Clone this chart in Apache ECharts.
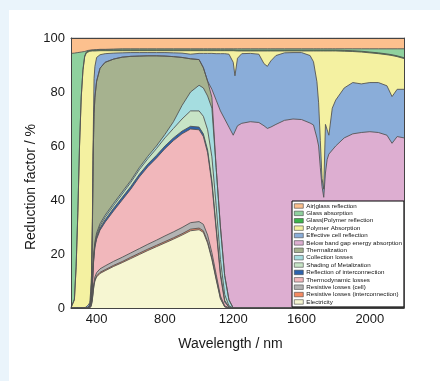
<!DOCTYPE html>
<html>
<head>
<meta charset="utf-8">
<script src="https://cdn.jsdelivr.net/npm/echarts@6/dist/echarts.min.js"></script>
<style>
  html, body { margin: 0; padding: 0; background: #eaf4fb; overflow: hidden; }
  #panel { position: absolute; left: 9px; top: 10px; width: 440px; height: 381px; background: #fff; }
  #chart { position: absolute; left: 0; top: 0; width: 440px; height: 381px; }
</style>
</head>
<body>
<div id="panel"></div>
<div id="chart"></div>
<script>
// wavelength grid (nm), denser where the curves bend
var wavelength = [
  250, 260, 270, 280, 290, 300, 310, 320, 330, 340,
  350, 360, 365, 370, 375, 380, 385, 390, 400, 420,
  450, 500, 550, 600, 650, 700, 750, 800, 850, 900,
  950, 1000, 1025, 1050, 1075, 1100, 1125, 1150, 1175, 1200,
  1210, 1225, 1250, 1300, 1350, 1380, 1400, 1420, 1450, 1500,
  1550, 1600, 1650, 1670, 1690, 1700, 1710, 1720, 1730, 1740,
  1750, 1760, 1780, 1800, 1850, 1900, 1950, 2000, 2050, 2100,
  2130, 2140, 2160, 2200
];
var xTicks = [400, 800, 1200, 1600, 2000];

// upper edge of each band (cumulative %)
var airGlassTop = [
  100, 100, 100, 100, 100, 100, 100, 100, 100, 100,
  100, 100, 100, 100, 100, 100, 100, 100, 100, 100,
  100, 100, 100, 100, 100, 100, 100, 100, 100, 100,
  100, 100, 100, 100, 100, 100, 100, 100, 100, 100,
  100, 100, 100, 100, 100, 100, 100, 100, 100, 100,
  100, 100, 100, 100, 100, 100, 100, 100, 100, 100,
  100, 100, 100, 100, 100, 100, 100, 100, 100, 100,
  100, 100, 100, 100
];
var glassAbsTop = [
  94.3, 94.3, 94.4, 94.5, 94.6, 94.7, 94.8, 94.9, 95.0, 95.2,
  95.4, 95.5, 95.5, 95.6, 95.6, 95.6, 95.6, 95.7, 95.7, 95.8,
  95.8, 95.9, 96, 96, 96, 96, 96, 96, 96, 96,
  96, 96, 96, 96, 96, 96, 96, 96, 96, 96,
  96, 96, 96, 96, 96, 96, 96, 96, 96, 96,
  96, 96, 96, 96, 96, 96, 96, 96, 96, 96,
  96, 96, 96, 96, 96, 96, 96, 96, 96, 96,
  96, 96, 96, 96
];
var glassPolyTop = [
  0.2, 0.8, 3.3, 15.3, 35.3, 60.3, 78.3, 88.3, 93.3, 94.8,
  95.3, 95.4, 95.4, 95.5, 95.5, 95.5, 95.5, 95.5, 95.5, 95.6,
  95.6, 95.6, 95.6, 95.6, 95.6, 95.6, 95.6, 95.6, 95.6, 95.6,
  95.6, 95.6, 95.6, 95.6, 95.6, 95.6, 95.6, 95.6, 95.6, 95.6,
  95.5, 95.5, 95.5, 95.5, 95.5, 95.5, 95.5, 95.5, 95.5, 95.5,
  95.5, 95.5, 95.5, 95.5, 95.5, 95.5, 95.5, 95.5, 95.5, 95.5,
  95.5, 95.5, 95.5, 95.5, 95.4, 95.3, 95.1, 94.8, 94.5, 94.1,
  93.8, 93.7, 93.4, 92.7
];
var polymerTop = [
  0, 0.5, 3, 15, 35, 60, 78, 88, 93, 94.5,
  95, 95.1, 95.1, 95.2, 95.2, 95.2, 95.2, 95.2, 95.2, 95.3,
  95.3, 95.3, 95.3, 95.3, 95.3, 95.3, 95.3, 95.3, 95.3, 95.3,
  95.3, 95.3, 95.3, 95.3, 95.3, 95.3, 95.3, 95.3, 95.3, 95.3,
  95.2, 95.2, 95.2, 95.2, 95.2, 95.2, 95.2, 95.2, 95.2, 95.2,
  95.2, 95.2, 95.2, 95.2, 95.2, 95.2, 95.2, 95.2, 95.2, 95.2,
  95.2, 95.2, 95.2, 95.2, 95.1, 95.0, 94.8, 94.5, 94.2, 93.8,
  93.5, 93.4, 93.1, 92.4
];
var cellReflTop = [
  0, 0, 0, 0, 0, 0, 0, 0, 0, 0,
  1, 2, 6, 12, 32, 63, 85, 89.5, 92.8, 93.8,
  94.2, 94.4, 94.5, 94.6, 94.6, 94.6, 94.6, 94.6, 94.5, 94.4,
  94.0, 94.3, 94.3, 94.3, 94.3, 94.2, 94.2, 94.2, 94.0, 91,
  86, 92.5, 94.2, 94.3, 94.0, 90.5, 89.5, 91.5, 93.5, 94.5,
  94.6, 94.6, 93.5, 91.2, 83.8, 76, 62, 48, 44, 68,
  66, 64, 74, 77, 81.5, 83.5, 83, 83.5, 83.5, 82.3,
  78.3, 78.5, 81, 81
];
var belowGapTop = [
  0, 0, 0, 0, 0, 0, 0, 0, 0, 0,
  0, 1, 3, 9, 28, 57, 72, 78, 84, 88.8,
  91, 92.2, 92.9, 93.2, 93.3, 93.4, 93.4, 93.3, 93.1, 92.8,
  92.3, 92.0, 89, 84, 81, 77, 73, 70, 67, 64,
  63.4, 67.5, 68.4, 69, 68.7, 67.5, 66.5, 67, 68, 69.5,
  70, 69.8, 68.5, 67.8, 63, 60, 52, 45, 41, 50,
  55, 57, 58.5, 60, 63, 64.5, 65, 65.3, 65, 64,
  61, 61.5, 63.5, 63
];
var thermTop = [
  0, 0, 0, 0, 0, 0, 0, 0, 0, 0,
  0, 1, 3, 9, 28, 57, 72, 78, 84, 88.8,
  91, 92.2, 92.9, 93.2, 93.3, 93.4, 93.4, 93.3, 93.1, 92.8,
  92.3, 92.0, 89, 84, 78, 52, 30, 12, 3, 0,
  0, 0, 0, 0, 0, 0, 0, 0, 0, 0,
  0, 0, 0, 0, 0, 0, 0, 0, 0, 0,
  0, 0, 0, 0, 0, 0, 0, 0, 0, 0,
  0, 0, 0, 0
];
var collTop = [
  0, 0, 0, 0, 0, 0, 0, 0, 0, 0,
  0, 0.6, 1.8, 4.4, 9.2, 16.5, 21.2, 24.5, 27.8, 31.2,
  34.4, 38.8, 43, 47.2, 52, 56.2, 60, 64.3, 69, 75,
  80, 82.5, 81.5, 78.5, 74, 52, 30, 12, 3, 0,
  0, 0, 0, 0, 0, 0, 0, 0, 0, 0,
  0, 0, 0, 0, 0, 0, 0, 0, 0, 0,
  0, 0, 0, 0, 0, 0, 0, 0, 0, 0,
  0, 0, 0, 0
];
var shadingTop = [
  0, 0, 0, 0, 0, 0, 0, 0, 0, 0,
  0, 0.5, 1.6, 4.1, 8.8, 16, 20.6, 23.7, 26.9, 30.4,
  33.6, 38, 42.2, 46.5, 51.2, 55.3, 59, 63, 66.5, 70,
  73, 73, 71, 66, 56, 38, 18, 5, 0.8, 0,
  0, 0, 0, 0, 0, 0, 0, 0, 0, 0,
  0, 0, 0, 0, 0, 0, 0, 0, 0, 0,
  0, 0, 0, 0, 0, 0, 0, 0, 0, 0,
  0, 0, 0, 0
];
var intReflTop = [
  0, 0, 0, 0, 0, 0, 0, 0, 0, 0,
  0, 0.4, 1.4, 3.8, 8.4, 15.5, 20, 23.1, 26.2, 29.6,
  32.7, 37, 41, 45, 49.5, 53.3, 56.5, 60, 63, 65.5,
  67.3, 67, 64.5, 58.5, 47, 30, 13, 2.8, 0.4, 0,
  0, 0, 0, 0, 0, 0, 0, 0, 0, 0,
  0, 0, 0, 0, 0, 0, 0, 0, 0, 0,
  0, 0, 0, 0, 0, 0, 0, 0, 0, 0,
  0, 0, 0, 0
];
var thermoTop = [
  0, 0, 0, 0, 0, 0, 0, 0, 0, 0,
  0, 0.3, 1.2, 3.5, 8, 15, 19.5, 22.5, 25.5, 28.8,
  31.8, 36, 40, 44, 48.5, 52.3, 55.5, 59, 62, 64.5,
  66.3, 66, 63.5, 57.5, 46, 29, 12, 2.2, 0.3, 0,
  0, 0, 0, 0, 0, 0, 0, 0, 0, 0,
  0, 0, 0, 0, 0, 0, 0, 0, 0, 0,
  0, 0, 0, 0, 0, 0, 0, 0, 0, 0,
  0, 0, 0, 0
];
var resCellTop = [
  0, 0, 0, 0, 0, 0, 0, 0, 0, 0,
  0, 0, 0.6, 1.8, 3.8, 7, 9.8, 11.5, 13.1, 14.5,
  15.6, 17.3, 18.8, 20.4, 22, 23.6, 25.1, 26.7, 28.2, 29.8,
  31.6, 32, 31, 27, 20.5, 12.5, 4.5, 0.8, 0.1, 0,
  0, 0, 0, 0, 0, 0, 0, 0, 0, 0,
  0, 0, 0, 0, 0, 0, 0, 0, 0, 0,
  0, 0, 0, 0, 0, 0, 0, 0, 0, 0,
  0, 0, 0, 0
];
var resIntTop = [
  0, 0, 0, 0, 0, 0, 0, 0, 0, 0,
  0, 0, 0.4, 1.4, 3.2, 6.3, 8.8, 10.4, 11.9, 13.2,
  14.2, 15.8, 17.2, 18.8, 20.3, 21.8, 23.2, 24.6, 26, 27.5,
  29.2, 29.6, 28.6, 24.6, 18.5, 11, 3.7, 0.5, 0, 0,
  0, 0, 0, 0, 0, 0, 0, 0, 0, 0,
  0, 0, 0, 0, 0, 0, 0, 0, 0, 0,
  0, 0, 0, 0, 0, 0, 0, 0, 0, 0,
  0, 0, 0, 0
];
var electricityTop = [
  0, 0, 0, 0, 0, 0, 0, 0, 0, 0,
  0, 0, 0.3, 1.2, 3, 6, 8.5, 10, 11.5, 12.8,
  13.8, 15.4, 16.8, 18.3, 19.8, 21.3, 22.7, 24.1, 25.5, 27,
  28.6, 29, 28, 24, 18, 10.5, 3.4, 0.4, 0, 0,
  0, 0, 0, 0, 0, 0, 0, 0, 0, 0,
  0, 0, 0, 0, 0, 0, 0, 0, 0, 0,
  0, 0, 0, 0, 0, 0, 0, 0, 0, 0,
  0, 0, 0, 0
];

// top band first, each filled down to 0, later ones painted over
var layers = [
  { name: 'Air|glass reflection', color: '#fcc08e', top: airGlassTop },
  { name: 'Glass absorption', color: '#8fd19e', top: glassAbsTop },
  { name: 'Glass|Polymer reflection', color: '#3cb44b', top: glassPolyTop },
  { name: 'Polymer Absorption', color: '#f4f1a1', top: polymerTop },
  { name: 'Effective cell reflection', color: '#8aadd9', top: cellReflTop },
  { name: 'Below band gap energy absorption', color: '#ddaed1', top: belowGapTop },
  { name: 'Thermalization', color: '#a6b28f', top: thermTop },
  { name: 'Collection losses', color: '#a5dde0', top: collTop },
  { name: 'Shading of Metalization', color: '#c7e4c6', top: shadingTop },
  { name: 'Reflection of interconnection', color: '#2c62ad', top: intReflTop },
  { name: 'Thermodynamic losses', color: '#f1b7bb', top: thermoTop },
  { name: 'Resistive losses (cell)', color: '#b3b3b3', top: resCellTop },
  { name: 'Resistive losses (interconnection)', color: '#f58a62', top: resIntTop },
  { name: 'Electricity', color: '#f6f6d2', top: electricityTop }
];

var series = layers.map(function (l) {
  return {
    name: l.name,
    type: 'line',
    symbol: 'none',
    silent: true,
    data: wavelength.map(function (w, i) { return [w, l.top[i]]; }),
    lineStyle: { color: '#555', width: 0.9 },
    itemStyle: { color: l.color },
    areaStyle: { color: l.color, opacity: 1, origin: 'start' }
  };
});

var frameLine = { show: true, onZero: false, lineStyle: { color: '#444', width: 1 } };

var chart = echarts.init(document.getElementById('chart'));
chart.setOption({
  animation: false,
  backgroundColor: 'transparent',
  textStyle: { fontFamily: 'Liberation Sans, Arial, sans-serif' },
  graphic: [
    {
      type: 'text', silent: true, rotation: Math.PI / 2,
      x: 31, y: 187,
      style: {
        text: 'Reduction factor / %', fontSize: 14, fill: '#1a1a1a',
        fontFamily: 'Liberation Sans, Arial, sans-serif',
        align: 'center', verticalAlign: 'middle'
      }
    }
  ],
  grid: { left: 71, right: 36, top: 38, bottom: 73 },
  legend: {
    orient: 'vertical',
    left: 292, top: 201,
    padding: 2,
    itemGap: 1.38,
    itemWidth: 9, itemHeight: 4.5,
    icon: 'rect',
    selectedMode: false,
    backgroundColor: '#fff',
    borderColor: '#000', borderWidth: 1,
    itemStyle: { borderColor: '#444', borderWidth: 0.6 },
    textStyle: { fontSize: 6.2, lineHeight: 6, color: '#111', padding: [0, 0, 0, -2] },
    data: layers.map(function (l) { return l.name; })
  },
  xAxis: [
    {
      type: 'value', min: 250, max: 2200, position: 'bottom', z: 10,
      axisLine: frameLine, axisTick: { show: false }, splitLine: { show: false },
      axisLabel: {
        customValues: xTicks, fontSize: 13, color: '#1a1a1a', margin: 5,
        formatter: function (v) { return String(v); }
      },
      name: 'Wavelength / nm', nameLocation: 'middle', nameGap: 29,
      nameTextStyle: { fontSize: 14, color: '#1a1a1a', padding: [0, 14, 0, 0] }
    },
    {
      type: 'value', min: 250, max: 2200, position: 'top', z: 10,
      axisLine: frameLine, axisTick: { show: false }, splitLine: { show: false },
      axisLabel: { show: false }
    }
  ],
  yAxis: [
    {
      type: 'value', min: 0, max: 100, interval: 20, position: 'left', z: 10,
      axisLine: frameLine, axisTick: { show: false }, splitLine: { show: false },
      axisLabel: { fontSize: 13, color: '#1a1a1a', margin: 6 }
    },
    {
      type: 'value', min: 0, max: 100, position: 'right', z: 10,
      axisLine: frameLine, axisTick: { show: false }, splitLine: { show: false },
      axisLabel: { show: false }
    }
  ],
  series: series
});
</script>
</body>
</html>
